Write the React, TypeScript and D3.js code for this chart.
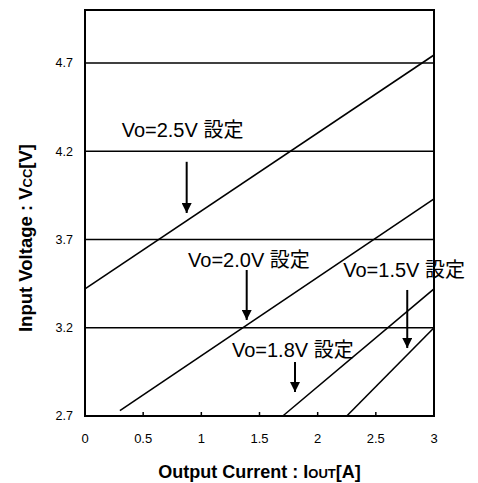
import React from "react";
import * as d3 from "d3";

const xTicks = [0, 0.5, 1, 1.5, 2, 2.5, 3];
const yTicks = [2.7, 3.2, 3.7, 4.2, 4.7];
const xTickLabels = ["0", "0.5", "1", "1.5", "2", "2.5", "3"];
const yTickLabels = ["2.7", "3.2", "3.7", "4.2", "4.7"];

// Lines: [current A, voltage V]
const line25: [number, number][] = [[0, 3.42], [3, 4.745]];
const line20: [number, number][] = [[0.3, 2.73], [3, 3.93]];
const line18: [number, number][] = [[1.7, 2.7], [3, 3.42]];
const line15: [number, number][] = [[2.25, 2.7], [3, 3.2]];
const seriesLines = [line25, line20, line18, line15];

const labelTexts = ["Vo=2.5V 設定", "Vo=2.0V 設定", "Vo=1.5V 設定", "Vo=1.8V 設定"];
const labelX = [0.315, 0.886, 2.22, 1.263];
const labelY = [4.282, 3.546, 3.486, 3.036];
const arrowX = [0.874, 1.39, 2.77, 1.805];
const arrowFrom = [4.14, 3.527, 3.414, 3.006];
const arrowTo = [3.85, 3.244, 3.085, 2.836];

const W = 478;
const H = 483;
const left = 85, right = 434, top = 10, bottom = 416;

export default function App() {
  const x = d3.scaleLinear().domain([0, 3]).range([left, right]);
  const y = d3.scaleLinear().domain([2.7, 5.0]).range([bottom, top]);
  const lineGen = d3.line<[number, number]>().x((d) => x(d[0])).y((d) => y(d[1]));
  const font = "'Liberation Sans', Arial, 'Noto Sans CJK JP', sans-serif";

  return (
    <svg width={W} height={H} style={{ position: "absolute", left: 0, top: 0, background: "#fff" }} fontFamily={font}>
      <defs>
        <marker id="ah" viewBox="0 0 10 10" refX="10" refY="5" markerWidth="10" markerHeight="10" markerUnits="userSpaceOnUse" orient="auto">
          <path d="M0,0 L10,5 L0,10 Z" fill="#000" />
        </marker>
      </defs>
      {yTicks.slice(1).map((t) => (
        <line key={t} x1={left} x2={right} y1={y(t)} y2={y(t)} stroke="#000" strokeWidth={1.5} />
      ))}
      {xTicks.slice(1, -1).map((t) => (
        <line key={t} x1={x(t)} x2={x(t)} y1={bottom} y2={bottom - 4} stroke="#000" strokeWidth={1.5} />
      ))}
      {seriesLines.map((s, i) => (
        <path key={i} d={lineGen(s) || ""} fill="none" stroke="#000" strokeWidth={1.6} />
      ))}
      <rect x={left} y={top} width={right - left} height={bottom - top} fill="none" stroke="#000" strokeWidth={2} />
      {yTicks.map((t, i) => (
        <text key={t} x={left - 12} y={y(t)} dy="0.35em" textAnchor="end" fontSize={12.5}>{yTickLabels[i]}</text>
      ))}
      {xTicks.map((t, i) => (
        <text key={t} x={x(t)} y={443} textAnchor="middle" fontSize={13}>{xTickLabels[i]}</text>
      ))}
      {labelTexts.map((s, i) => (
        <text key={s} x={x(labelX[i])} y={y(labelY[i])} fontSize={20}>{s}</text>
      ))}
      {arrowX.map((a, i) => (
        <line key={i} x1={x(a)} x2={x(a)} y1={y(arrowFrom[i])} y2={y(arrowTo[i])} stroke="#000" strokeWidth={2} markerEnd="url(#ah)" />
      ))}
      <text x={(left + right) / 2} y={478} textAnchor="middle" fontSize={18} fontWeight="bold">
        Output Current : I<tspan fontSize={13}>OUT</tspan>[A]
      </text>
      <text transform={`translate(32, ${(top + bottom) / 2 + 25}) rotate(-90)`} textAnchor="middle" fontSize={18.5} fontWeight="bold">
        Input Voltage : V<tspan fontSize={13}>CC</tspan>[V]
      </text>
    </svg>
  );
}
